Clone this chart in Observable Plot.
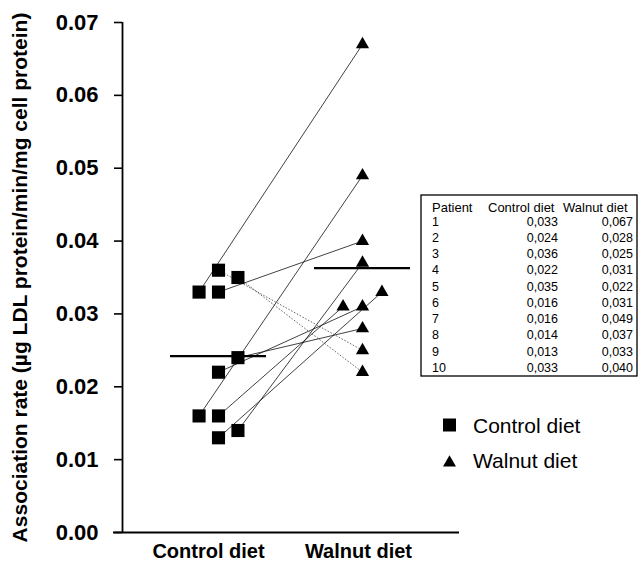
<!DOCTYPE html>
<html>
<head>
<meta charset="utf-8">
<script src="https://cdn.jsdelivr.net/npm/d3@7"></script>
<script src="https://cdn.jsdelivr.net/npm/@observablehq/plot@0.6"></script>
<style>
  body { margin: 0; background: #fff; }
  #wrap { position: relative; width: 644px; height: 562px; font-family: "Liberation Sans", Arial, sans-serif; }
  #wrap > svg { position: absolute; left: 0; top: 0; }
</style>
</head>
<body>
<div id="wrap"></div>
<script>
// ---- data ----
const patients = [1, 2, 3, 4, 5, 6, 7, 8, 9, 10];
const controlDiet = [0.033, 0.024, 0.036, 0.022, 0.035, 0.016, 0.016, 0.014, 0.013, 0.033];
const walnutDiet  = [0.067, 0.028, 0.025, 0.031, 0.022, 0.031, 0.049, 0.037, 0.033, 0.040];
// horizontal jitter slot of each patient's marker (-1 left, 0 centre, 1 right)
const controlSlot = [-1, 1, 0, 0, 1, 0, -1, 1, 0, 0];
const walnutSlot  = [0, 0, 0, 0, 0, -1, 0, 0, 1, 0];
const groups = ["Control diet", "Walnut diet"];
const yTicks = [0, 0.01, 0.02, 0.03, 0.04, 0.05, 0.06, 0.07];
const yTitle = "Association rate (µg LDL protein/min/mg cell protein)";
const tableHeader = ["Patient", "Control diet", "Walnut diet"];

// ---- derived ----
const SLOT = 0.135;
const rows = patients.map((p, i) => ({
  patient: p,
  c: controlDiet[i],
  w: walnutDiet[i],
  cx: 1 + controlSlot[i] * SLOT,
  wx: 2 + walnutSlot[i] * SLOT,
  down: walnutDiet[i] < controlDiet[i]
}));
const means = [
  {x: 1, v: d3.mean(controlDiet)},
  {x: 2, v: d3.mean(walnutDiet)}
];
const xMin = 1 / 3, xMax = 2 + 97 / 144;

const font = "Liberation Sans, Arial, Helvetica, sans-serif";

const chart = Plot.plot({
  width: 644,
  height: 562,
  marginLeft: 122,
  marginRight: 185,
  marginTop: 22,
  marginBottom: 30,
  x: {domain: [xMin, xMax]},
  y: {domain: [0, 0.07]},
  style: {fontFamily: font, background: "white", color: "black"},
  marks: [
    Plot.axisY({ticks: yTicks, tickFormat: d => d.toFixed(2), tickSize: 8, tickPadding: 16,
      fontSize: 22, fontWeight: "bold", strokeWidth: 1.6, label: null}),
    Plot.axisX({ticks: [1], tickFormat: d => groups[d - 1], tickSize: 0, tickPadding: 11,
      fontSize: 20, fontWeight: "bold", label: null, dx: -10}),
    Plot.axisX({ticks: [2], tickFormat: d => groups[d - 1], tickSize: 0, tickPadding: 11,
      fontSize: 20, fontWeight: "bold", label: null, dx: -4}),
    Plot.ruleX([xMin], {y1: 0, y2: 0.07, strokeWidth: 1.8}),
    Plot.ruleY([0], {x1: xMin - 9 / 144, x2: xMax, strokeWidth: 1.8}),
    Plot.text([yTitle], {frameAnchor: "left", textAnchor: "middle", lineAnchor: "middle",
      dx: -102, rotate: -90, fontSize: 21, fontWeight: "bold"}),
    Plot.link(rows.filter(d => !d.down), {x1: "cx", y1: "c", x2: "wx", y2: "w", stroke: "#111", strokeWidth: 0.8}),
    Plot.link(rows.filter(d => d.down), {x1: "cx", y1: "c", x2: "wx", y2: "w", stroke: "#444", strokeWidth: 0.8, strokeDasharray: "1.6,1.6"}),
    Plot.ruleY(means, {y: "v", x1: d => d.x - 1 / 3, x2: d => d.x + 1 / 3, strokeWidth: 2.2}),
    Plot.dot(rows, {x: "cx", y: "c", symbol: "square", r: 7.4, fill: "black"}),
    Plot.dot(rows, {x: "wx", y: "w", symbol: "triangle", r: 4.9, fill: "black"})
  ]
});

const wrap = document.getElementById("wrap");
wrap.appendChild(chart);

// ---- overlay: data table and legend ----
const ov = d3.select(wrap).append("svg")
  .attr("width", 644).attr("height", 562)
  .style("font-family", font);

const tb = ov.append("g");
tb.append("rect").attr("x", 421).attr("y", 195).attr("width", 216).attr("height", 181)
  .attr("fill", "white").attr("stroke", "black").attr("stroke-width", 1.3);
const hx = [432, 488, 563];
tableHeader.forEach((h, i) => {
  tb.append("text").attr("x", hx[i]).attr("y", 211.5).attr("font-size", 13).text(h);
});
const fmt = v => v.toFixed(3).replace(".", ",");
rows.forEach((d, i) => {
  const yb = 225.5 + i * 16.25;
  tb.append("text").attr("x", 432).attr("y", yb).attr("font-size", 12.5).text(d.patient);
  tb.append("text").attr("x", 558).attr("y", yb).attr("font-size", 12.5).attr("text-anchor", "end").text(fmt(d.c));
  tb.append("text").attr("x", 633).attr("y", yb).attr("font-size", 12.5).attr("text-anchor", "end").text(fmt(d.w));
});

const lg = ov.append("g");
lg.append("path").attr("transform", "translate(449.5,425)")
  .attr("d", d3.symbol(d3.symbolSquare, 13 * 13)()).attr("fill", "black");
lg.append("text").attr("x", 473).attr("y", 433).attr("font-size", 21).text(groups[0]);
lg.append("path").attr("transform", "translate(449.5,462.8)")
  .attr("d", d3.symbol(d3.symbolTriangle, 73)()).attr("fill", "black");
lg.append("text").attr("x", 473).attr("y", 468).attr("font-size", 21).text(groups[1]);
</script>
</body>
</html>
